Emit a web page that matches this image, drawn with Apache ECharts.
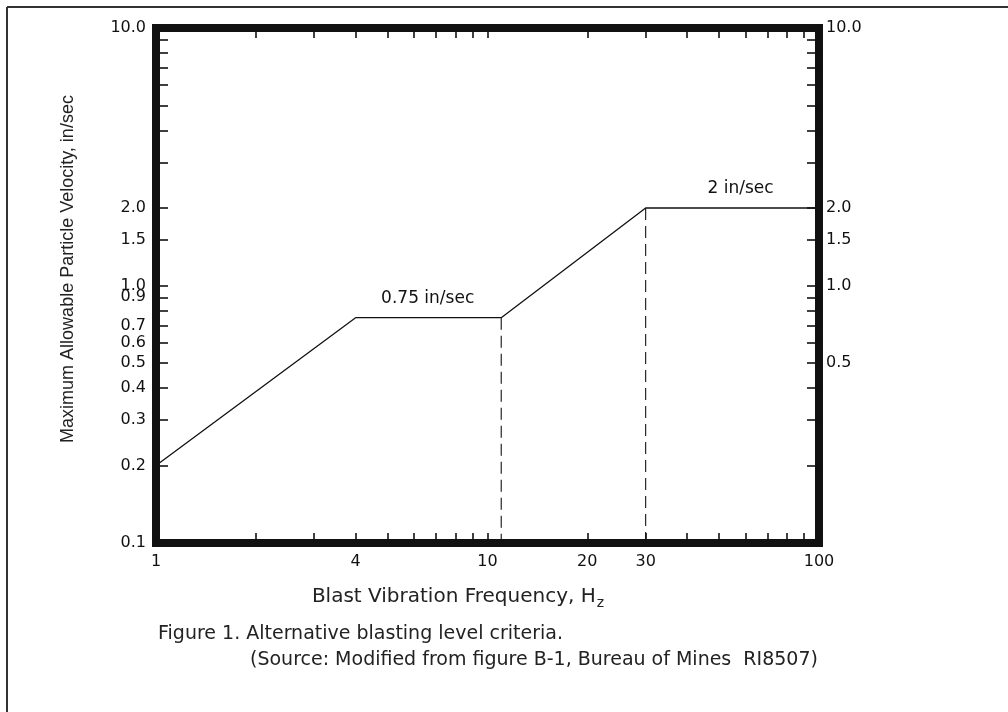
<!DOCTYPE html>
<html>
<head>
<meta charset="utf-8">
<title>Alternative blasting level criteria</title>
<script src="https://cdn.jsdelivr.net/npm/echarts@6/dist/echarts.min.js"></script>
<style>
  html, body { margin: 0; padding: 0; width: 100%; height: 100%; background: #fff; overflow: hidden; }
  #main { width: 1008px; height: 712px; }
</style>
</head>
<body>
<div id="main"></div>
<script>
// criteria curve: frequency (Hz) vs max particle velocity (in/sec)
var criteria = [[1, 0.2], [4, 0.75], [11, 0.75], [30, 2], [100, 2]];
var dropAt11 = [[11, 0.75], [11, 0.1]];
var dropAt30 = [[30, 2], [30, 0.1]];

// tick marks and labels
var xTicks = [1, 2, 3, 4, 5, 6, 7, 8, 9, 10, 20, 30, 40, 50, 60, 70, 80, 90, 100];
var xLabels = [1, 4, 10, 20, 30, 100];
var yTicks = [0.1, 0.2, 0.3, 0.4, 0.5, 0.6, 0.7, 0.8, 0.9, 1, 1.5, 2, 3, 4, 5, 6, 7, 8, 9, 10];
var yLabelsLeft = [0.1, 0.2, 0.3, 0.4, 0.5, 0.6, 0.7, 0.9, 1, 1.5, 2, 10];
var yLabelsRight = [0.5, 1, 1.5, 2, 10];

var tickFont = { fontFamily: 'DejaVu Sans', fontSize: 16, color: '#111' };

var myChart = echarts.init(document.getElementById('main'));

var tick = function (vals, len) {
  return { show: true, inside: true, length: len, customValues: vals, lineStyle: { color: '#111', width: 1.6 } };
};

var option = {
  animation: false,
  backgroundColor: '#fff',
  grid: {
    left: 156, right: 189, top: 28, bottom: 169,
    show: true, borderColor: '#111', borderWidth: 8, backgroundColor: 'transparent'
  },
  xAxis: [
    {
      type: 'log', logBase: 10, min: 1, max: 100, position: 'bottom',
      axisLine: { show: false },
      axisTick: tick(xTicks, 10),
      splitLine: { show: false },
      axisLabel: Object.assign({
        customValues: xLabels, margin: 11, hideOverlap: false,
        formatter: function (v) { return String(Math.round(v)); }
      }, tickFont)
    },
    {
      type: 'log', logBase: 10, min: 1, max: 100, position: 'top',
      axisLine: { show: false },
      axisTick: tick(xTicks, 10),
      splitLine: { show: false },
      axisLabel: { show: false }
    }
  ],
  yAxis: [
    {
      type: 'log', logBase: 10, min: 0.1, max: 10, position: 'left',
      axisLine: { show: false },
      axisTick: tick(yTicks, 12),
      splitLine: { show: false },
      axisLabel: Object.assign({
        customValues: yLabelsLeft, margin: 10, hideOverlap: false,
        formatter: function (v) { return v.toFixed(1); }
      }, tickFont)
    },
    {
      type: 'log', logBase: 10, min: 0.1, max: 10, position: 'right',
      axisLine: { show: false },
      axisTick: tick(yTicks, 12),
      splitLine: { show: false },
      axisLabel: Object.assign({
        customValues: yLabelsRight, margin: 7, hideOverlap: false,
        formatter: function (v) { return v.toFixed(1); }
      }, tickFont)
    }
  ],
  series: [
    {
      type: 'line', data: criteria, showSymbol: false, symbol: 'none',
      lineStyle: { color: '#111', width: 1.3 },
      markPoint: {
        symbol: 'circle', symbolSize: 0,
        label: {
          show: true, position: 'top', distance: 11, formatter: '{b}',
          fontFamily: 'DejaVu Sans', fontSize: 17, color: '#111'
        },
        data: [
          { name: '0.75 in/sec', coord: [6.6, 0.75] },
          { name: '2 in/sec', coord: [58, 2] }
        ]
      }
    },
    {
      type: 'line', data: dropAt11, symbol: 'none',
      lineStyle: { color: '#111', width: 1.1, type: [12, 6] }
    },
    {
      type: 'line', data: dropAt30, symbol: 'none',
      lineStyle: { color: '#111', width: 1.1, type: [12, 6] }
    }
  ],
  graphic: [
    { type: 'line', shape: { x1: 7, y1: 7, x2: 1008, y2: 7 }, style: { stroke: '#333', lineWidth: 2 } },
    { type: 'line', shape: { x1: 7, y1: 7, x2: 7, y2: 712 }, style: { stroke: '#333', lineWidth: 2 } },
    {
      type: 'text', x: 68, y: 269, rotation: Math.PI / 2,
      style: {
        text: 'Maximum Allowable Particle Velocity, in/sec',
        font: '18px "Liberation Sans", Arial, sans-serif', fill: '#222',
        align: 'center', verticalAlign: 'middle'
      }
    },
    {
      type: 'text', x: 458, y: 597,
      style: {
        text: '{a|Blast Vibration Frequency, H}{s|z}',
        align: 'center', verticalAlign: 'middle', fill: '#222',
        rich: {
          a: { fontFamily: 'DejaVu Sans', fontSize: 20, fill: '#222' },
          s: { fontFamily: 'DejaVu Sans', fontSize: 14, fill: '#222', padding: [13, 0, 0, 1] }
        }
      }
    },
    {
      type: 'text', x: 158, y: 634,
      style: {
        text: 'Figure 1. Alternative blasting level criteria.',
        font: '19px "DejaVu Sans", sans-serif', fill: '#222',
        align: 'left', verticalAlign: 'middle'
      }
    },
    {
      type: 'text', x: 250, y: 660,
      style: {
        text: '(Source: Modified from figure B-1, Bureau of Mines  RI8507)',
        font: '19px "DejaVu Sans", sans-serif', fill: '#222',
        align: 'left', verticalAlign: 'middle'
      }
    }
  ]
};

myChart.setOption(option);
</script>
</body>
</html>
